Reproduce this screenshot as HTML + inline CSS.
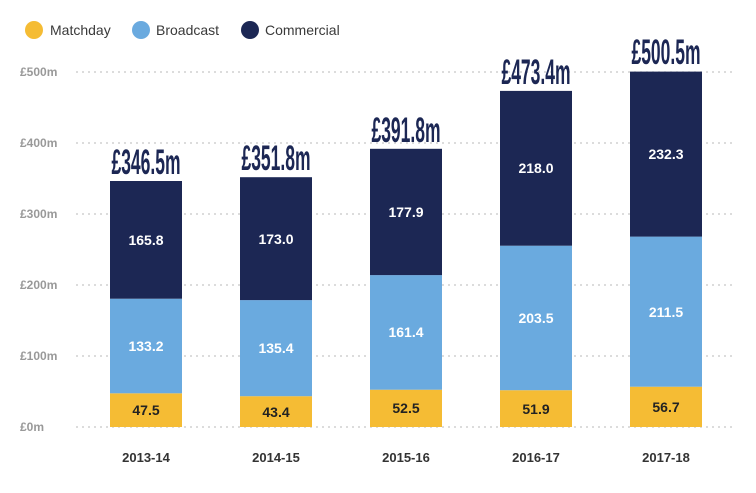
<!DOCTYPE html>
<html><head><style>
body{margin:0;background:#fff;}
svg{display:block;font-family:"Liberation Sans",sans-serif;}
.v{font-size:14px;font-weight:bold;text-anchor:middle;}
.w{fill:#fff;}
.k{fill:#222;}
.t{font-size:35px;font-weight:bold;fill:#1C2754;text-anchor:middle;}
.x{font-size:13px;font-weight:bold;fill:#333;text-anchor:middle;}
</style></head><body>
<svg width="756" height="493" viewBox="0 0 756 493">
<g font-size="14">
<circle cx="34" cy="30" r="9" fill="#F5BC34"/><text x="50" y="35" fill="#3a3a3a">Matchday</text>
<circle cx="141" cy="30" r="9" fill="#6AAADF"/><text x="156" y="35" fill="#3a3a3a">Broadcast</text>
<circle cx="250" cy="30" r="9" fill="#1C2754"/><text x="265" y="35" fill="#3a3a3a">Commercial</text>
</g>
<g stroke="#c8c8c8" stroke-width="1.2" stroke-dasharray="2,4">
<line x1="76" x2="735" y1="72" y2="72"/><line x1="76" x2="735" y1="143" y2="143"/>
<line x1="76" x2="735" y1="214" y2="214"/><line x1="76" x2="735" y1="285" y2="285"/>
<line x1="76" x2="735" y1="356" y2="356"/><line x1="76" x2="735" y1="427" y2="427"/>
</g>
<g font-size="12" fill="#999" font-weight="bold">
<text x="20" y="76">£500m</text><text x="20" y="147">£400m</text><text x="20" y="218">£300m</text>
<text x="20" y="289">£200m</text><text x="20" y="360">£100m</text><text x="20" y="431">£0m</text>
</g>

<rect x="110" y="393.3" width="72" height="33.7" fill="#F5BC34"/>
<rect x="110" y="298.7" width="72" height="94.6" fill="#6AAADF"/>
<rect x="110" y="181" width="72" height="117.7" fill="#1C2754"/>
<text class="v k" x="146" y="415">47.5</text><text class="v w" x="146" y="351">133.2</text><text class="v w" x="146" y="245">165.8</text>
<text class="t" transform="translate(146,174) scale(0.5,1)">£346.5m</text>
<text class="x" x="146" y="462">2013-14</text>

<rect x="240" y="396.2" width="72" height="30.8" fill="#F5BC34"/>
<rect x="240" y="300.1" width="72" height="96.1" fill="#6AAADF"/>
<rect x="240" y="177.2" width="72" height="122.9" fill="#1C2754"/>
<text class="v k" x="276" y="417">43.4</text><text class="v w" x="276" y="353">135.4</text><text class="v w" x="276" y="244">173.0</text>
<text class="t" transform="translate(276,170) scale(0.5,1)">£351.8m</text>
<text class="x" x="276" y="462">2014-15</text>

<rect x="370" y="389.7" width="72" height="37.3" fill="#F5BC34"/>
<rect x="370" y="275.1" width="72" height="114.6" fill="#6AAADF"/>
<rect x="370" y="148.8" width="72" height="126.3" fill="#1C2754"/>
<text class="v k" x="406" y="413">52.5</text><text class="v w" x="406" y="337">161.4</text><text class="v w" x="406" y="217">177.9</text>
<text class="t" transform="translate(406,142) scale(0.5,1)">£391.8m</text>
<text class="x" x="406" y="462">2015-16</text>

<rect x="500" y="390.2" width="72" height="36.8" fill="#F5BC34"/>
<rect x="500" y="245.7" width="72" height="144.5" fill="#6AAADF"/>
<rect x="500" y="90.9" width="72" height="154.8" fill="#1C2754"/>
<text class="v k" x="536" y="414">51.9</text><text class="v w" x="536" y="323">203.5</text><text class="v w" x="536" y="173">218.0</text>
<text class="t" transform="translate(536,84) scale(0.5,1)">£473.4m</text>
<text class="x" x="536" y="462">2016-17</text>

<rect x="630" y="386.7" width="72" height="40.3" fill="#F5BC34"/>
<rect x="630" y="236.6" width="72" height="150.1" fill="#6AAADF"/>
<rect x="630" y="71.6" width="72" height="165" fill="#1C2754"/>
<text class="v k" x="666" y="412">56.7</text><text class="v w" x="666" y="317">211.5</text><text class="v w" x="666" y="159">232.3</text>
<text class="t" transform="translate(666,64) scale(0.5,1)">£500.5m</text>
<text class="x" x="666" y="462">2017-18</text>
</svg>
</body></html>
